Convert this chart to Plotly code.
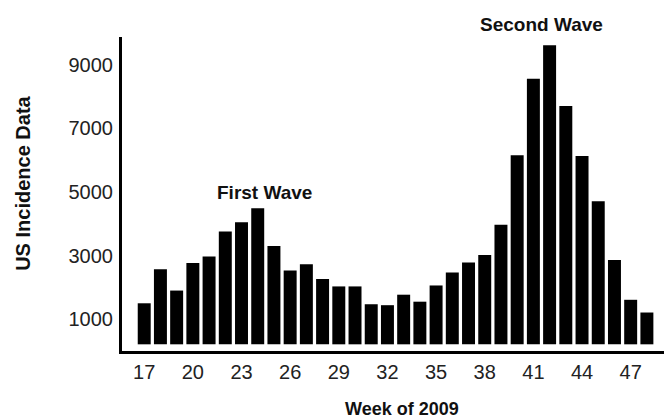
import plotly.graph_objects as go

weeks = list(range(17, 49))
incidence = [1500, 2570, 1900, 2770, 2970, 3760, 4050, 4490, 3300, 2530,
             2730, 2260, 2030, 2030, 1470, 1440, 1770, 1550, 2060, 2470,
             2780, 3020, 3970, 6150, 8560, 9610, 7700, 6130, 4710, 2860,
             1610, 1210]
x_ticks = [17, 20, 23, 26, 29, 32, 35, 38, 41, 44, 47]
y_ticks = [1000, 3000, 5000, 7000, 9000]
wave_labels = ["First Wave", "Second Wave"]
wave_x = [24.44, 41.49]
wave_y = [4983, 10258]

FONT = "Liberation Sans, Arial, Helvetica, sans-serif"
Y_MAX = 9871

fig = go.Figure()
fig.add_trace(go.Bar(
    x=weeks,
    y=[v - 210 for v in incidence],
    base=210,
    width=0.8,
    marker=dict(color="black", line=dict(width=0)),
    showlegend=False,
))

for t, xx, yy in zip(wave_labels, wave_x, wave_y):
    fig.add_annotation(x=xx, xref="x", yref="paper", y=yy / Y_MAX,
                       text="<b>%s</b>" % t, showarrow=False,
                       font=dict(family=FONT, size=19, color="#111"),
                       xanchor="center", yanchor="middle")

fig.add_annotation(xref="paper", yref="paper", x=-0.182, y=0.535,
                   text="<b>US Incidence Data</b>", textangle=-90,
                   showarrow=False, font=dict(family=FONT, size=20, color="#111"),
                   xanchor="center", yanchor="middle")
fig.add_annotation(xref="paper", yref="paper", x=0.513, y=-0.186,
                   text="<b>Week of 2009</b>", showarrow=False,
                   font=dict(family=FONT, size=18, color="#111"),
                   xanchor="center", yanchor="middle")

fig.update_layout(
    width=672, height=419,
    margin=dict(l=114, r=13, t=29, b=76),
    paper_bgcolor="white", plot_bgcolor="white",
    bargap=0.2,
)
fig.update_xaxes(
    range=[15.63, 49.24], tickvals=x_ticks, ticktext=[str(v) for v in x_ticks],
    showline=True, linecolor="black", linewidth=3, showgrid=False, zeroline=False,
    ticks="", ticklabelstandoff=1,
    tickfont=dict(family=FONT, size=20, color="#222"),
)
fig.update_yaxes(
    range=[0, Y_MAX], tickvals=y_ticks, ticktext=[str(v) for v in y_ticks],
    showline=True, linecolor="black", linewidth=3, showgrid=False, zeroline=False,
    ticks="", ticklabelstandoff=2,
    tickfont=dict(family=FONT, size=20, color="#222"),
)

fig.write_html("out.html")
